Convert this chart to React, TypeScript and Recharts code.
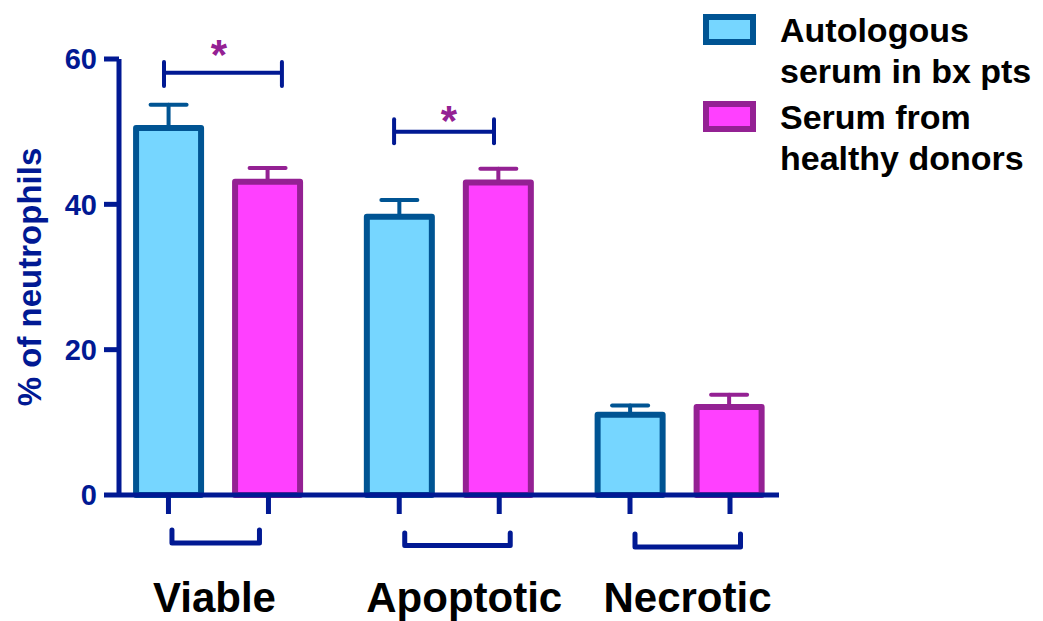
import {
  Bar,
  BarChart,
  ErrorBar,
  Legend,
  ReferenceLine,
  XAxis,
  YAxis,
} from "recharts";

const categories = ["Viable", "Apoptotic", "Necrotic"];
const categoryX = [1, 2, 3];
const autologous = [50.5, 38.3, 11.05];
const autologousSem = [3.2, 2.3, 1.25];
const healthy = [43.1, 43.0, 12.1];
const healthySem = [1.9, 1.9, 1.7];
const yTicks = [0, 20, 40, 60];
const seriesLabels = [
  ["Autologous", "serum in bx pts"],
  ["Serum from", "healthy donors"],
];

// significance brackets over the bars
const sigViable = { x1: 0.764, x2: 1.275, y: 58.1, low: 56.3, high: 59.6 };
const sigApoptotic = { x1: 1.761, x2: 2.194, y: 50.0, low: 48.4, high: 51.7 };

const SKY = "#76d6ff";
const OCEAN = "#005493";
const MAGENTA = "#ff40ff";
const PLUM = "#942193";
const MIDNIGHT = "#011993";
const FONT = '"Liberation Sans", Arial, sans-serif';

const data = categories.map((name, i) => ({
  name,
  x: categoryX[i],
  auto: autologous[i],
  autoErr: [0, autologousSem[i]],
  healthy: healthy[i],
  healthyErr: [0, healthySem[i]],
}));

// little tweaks per group for the bracket under the axis and the label
const tickLayout = [
  { l: -46.5, r: 41, top: 35, bottom: 48, dx: -4 },
  { l: -44.5, r: 61, top: 38, bottom: 50.5, dx: 15 },
  { l: -45, r: 60.5, top: 39, bottom: 52, dx: 7.5 },
];

function CategoryTick(props: any) {
  const { x, y, payload } = props;
  const i = Math.round(payload.value) - 1;
  const t = tickLayout[i];
  if (!t) return null;
  const line = { stroke: MIDNIGHT, strokeWidth: 5, fill: "none" };
  return (
    <g>
      <line x1={x - 50} x2={x - 50} y1={y} y2={y + 19} {...line} />
      <line x1={x + 50} x2={x + 50} y1={y} y2={y + 19} {...line} />
      <path
        d={`M${x + t.l},${y + t.top} V${y + t.bottom} H${x + t.r} V${y + t.top}`}
        {...line}
        strokeLinecap="round"
        strokeLinejoin="round"
      />
      <text
        x={x + t.dx}
        y={y + 117}
        textAnchor="middle"
        fill="#000"
        fontFamily={FONT}
        fontWeight="bold"
        fontSize={42}
      >
        {categories[i]}
      </text>
    </g>
  );
}

function LegendBox() {
  const colors = [
    { fill: SKY, stroke: OCEAN },
    { fill: MAGENTA, stroke: PLUM },
  ];
  return (
    <div
      style={{
        display: "flex",
        flexDirection: "column",
        gap: 5,
        fontFamily: FONT,
        fontWeight: "bold",
        fontSize: 34,
        lineHeight: "41px",
        color: "#000",
        textAlign: "left",
      }}
    >
      {seriesLabels.map((lines, i) => (
        <div key={i} style={{ display: "flex", alignItems: "flex-start" }}>
          <span
            style={{
              boxSizing: "border-box",
              width: 53,
              height: 31,
              marginTop: 4,
              marginRight: 24,
              border: `6px solid ${colors[i].stroke}`,
              background: colors[i].fill,
            }}
          />
          <div>
            {lines.map((l) => (
              <div key={l} style={{ whiteSpace: "nowrap" }}>
                {l}
              </div>
            ))}
          </div>
        </div>
      ))}
    </div>
  );
}

export default function App() {
  const sig = { stroke: MIDNIGHT, strokeWidth: 4 };
  return (
    <div
      style={{
        position: "absolute",
        left: 0,
        top: 0,
        width: 1043,
        height: 621,
        background: "#fff",
      }}
    >
      <BarChart
        width={1043}
        height={621}
        data={data}
        margin={{ top: 59, right: 264, bottom: 6, left: 0 }}
        barGap={34}
        barSize={65}
      >
        <XAxis
          type="number"
          dataKey="x"
          domain={[0.569, 3.429]}
          ticks={categoryX}
          interval={0}
          height={120}
          tickLine={false}
          tickSize={0}
          tickMargin={0}
          axisLine={{ stroke: MIDNIGHT, strokeWidth: 5 }}
          tick={(p: any) => <CategoryTick {...p} />}
          allowDataOverflow
        />
        <YAxis
          domain={[0, 60]}
          ticks={yTicks}
          width={119}
          tickSize={15}
          tickMargin={7}
          axisLine={{ stroke: MIDNIGHT, strokeWidth: 5 }}
          tickLine={{ stroke: MIDNIGHT, strokeWidth: 5 }}
          tick={{
            fill: MIDNIGHT,
            fontSize: 29,
            fontWeight: "bold",
            fontFamily: FONT,
          }}
          label={{
            value: "% of neutrophils",
            angle: -90,
            position: "center",
            dx: -30,
            fill: MIDNIGHT,
            fontSize: 33,
            fontWeight: "bold",
            fontFamily: FONT,
          }}
        />
        <Bar
          dataKey="auto"
          fill={SKY}
          stroke={OCEAN}
          strokeWidth={6}
          strokeLinejoin="round"
          isAnimationActive={false}
        >
          <ErrorBar
            dataKey="autoErr"
            width={18}
            stroke={OCEAN}
            strokeWidth={4}
            strokeLinecap="round"
            isAnimationActive={false}
          />
        </Bar>
        <Bar
          dataKey="healthy"
          fill={MAGENTA}
          stroke={PLUM}
          strokeWidth={6}
          strokeLinejoin="round"
          isAnimationActive={false}
        >
          <ErrorBar
            dataKey="healthyErr"
            width={18}
            stroke={PLUM}
            strokeWidth={4}
            strokeLinecap="round"
            isAnimationActive={false}
          />
        </Bar>

        {[sigViable, sigApoptotic].map((s, i) => [
          <ReferenceLine
            key={`h${i}`}
            segment={[
              { x: s.x1, y: s.y },
              { x: s.x2, y: s.y },
            ]}
            {...sig}
            label={{
              value: "*",
              position: "top",
              offset: i === 0 ? 3.5 : -3.5,
              dx: i === 0 ? -4 : 5,
              fill: PLUM,
              fontSize: 42,
              fontWeight: "bold",
              fontFamily: FONT,
            }}
          />,
          <ReferenceLine
            key={`l${i}`}
            segment={[
              { x: s.x1, y: s.low },
              { x: s.x1, y: s.high },
            ]}
            {...sig}
            strokeLinecap="round"
          />,
          <ReferenceLine
            key={`r${i}`}
            segment={[
              { x: s.x2, y: s.low },
              { x: s.x2, y: s.high },
            ]}
            {...sig}
            strokeLinecap="round"
          />,
        ])}

        <Legend
          layout="vertical"
          align="center"
          verticalAlign="middle"
          wrapperStyle={{ left: 703, top: 10, width: 340 }}
          content={() => <LegendBox />}
        />
      </BarChart>
    </div>
  );
}
